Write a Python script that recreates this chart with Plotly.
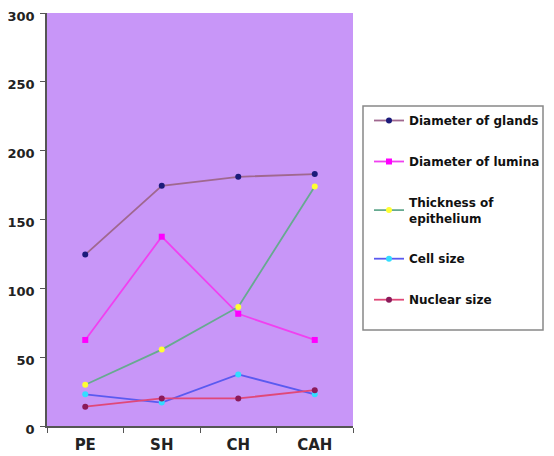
import plotly.graph_objects as go

categories = ["PE", "SH", "CH", "CAH"]
diameter_glands = [124.5, 174.5, 181, 183]
diameter_lumina = [62.5, 137.5, 81.5, 62.5]
thickness_epithelium = [30, 55.5, 86.5, 174]
cell_size = [23, 17, 37.5, 23]
nuclear_size = [14, 20, 20, 26]

series = [
    ("Diameter of glands", diameter_glands, "#A0688F", "#1B1B7A", "circle"),
    ("Diameter of lumina", diameter_lumina, "#F040F0", "#FF00FF", "square"),
    ("Thickness of<br>epithelium", thickness_epithelium, "#66AA90", "#FFFF33", "circle"),
    ("Cell size", cell_size, "#5A5AF0", "#33DDFF", "circle"),
    ("Nuclear size", nuclear_size, "#E04878", "#8B1A5A", "circle"),
]

FONT = "DejaVu Sans, Arial, sans-serif"

# page has an 8px body margin; figure area is offset by 8px
OFF = 8
W, H = 554 - OFF, 456 - OFF
L, R, T, B = 47 - OFF, 353 - OFF, 13 - OFF, 426 - OFF

fig = go.Figure()
for i, (name, vals, lc, mc, sym) in enumerate(series):
    fig.add_trace(go.Scatter(
        x=categories, y=vals, name=name, mode="lines+markers",
        line=dict(color=lc, width=1.8),
        marker=dict(color=mc, size=6, symbol=sym, line=dict(width=0)),
        legendgroup=f"g{i}",
    ))

def px_x(p):
    return (p - OFF - L) / float(R - L)

def px_y(p):
    return (B - (p - OFF)) / float(B - T)

fig.add_shape(type="rect", xref="paper", yref="paper",
              x0=px_x(363), x1=px_x(543), y0=px_y(330), y1=px_y(106),
              line=dict(color="#888888", width=1.5), fillcolor="white", layer="below")

fig.update_layout(
    width=W, height=H,
    margin=dict(l=L, r=W - R, t=T, b=H - B, autoexpand=False),
    paper_bgcolor="white",
    plot_bgcolor="#C896F8",
    font=dict(family=FONT, color="#222222"),
    showlegend=True,
    legend=dict(
        x=px_x(369), y=px_y(106), xanchor="left", yanchor="top",
        bgcolor="rgba(0,0,0,0)", borderwidth=0,
        font=dict(size=12, family=FONT, color="#111111", weight="bold"),
        tracegroupgap=22,
        itemwidth=30,
    ),
    xaxis=dict(
        type="category", showgrid=False, zeroline=False, automargin=False,
        showline=True, linecolor="#555555", linewidth=1.5,
        ticks="outside", tickson="boundaries", ticklen=5, tickcolor="#555555",
        tickfont=dict(size=15, family=FONT, weight="bold", color="#222222"),
        ticklabelstandoff=4,
        range=[-0.5, 3.5],
    ),
    yaxis=dict(
        range=[0, 300], dtick=50, showgrid=False, zeroline=False, automargin=False,
        showline=True, linecolor="#555555", linewidth=1.5,
        ticks="outside", ticklen=5, tickcolor="#555555",
        ticklabeloverflow="allow", ticklabelstandoff=3, ticklabelshift=3,
        tickfont=dict(size=13, family=FONT, weight="bold", color="#222222"),
    ),
)

fig.write_html("out.html")
